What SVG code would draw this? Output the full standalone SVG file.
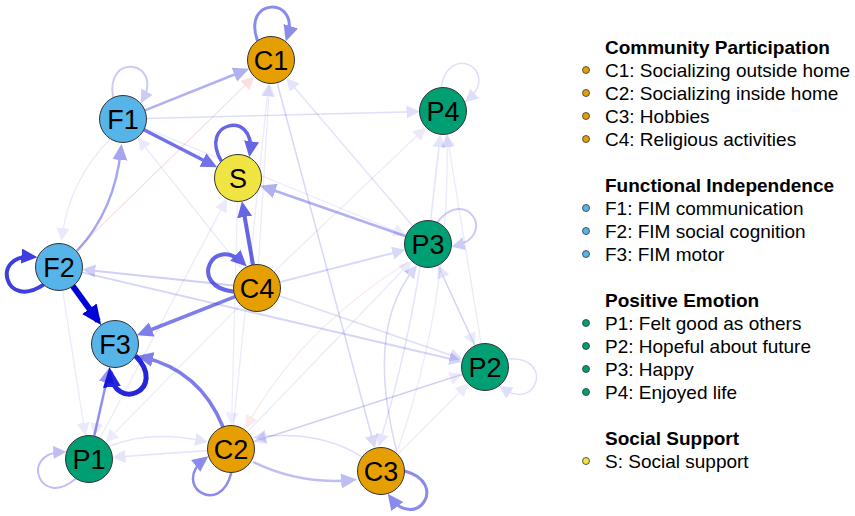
<svg xmlns="http://www.w3.org/2000/svg" width="855" height="516" viewBox="0 0 855 516">
<style>
.e{fill:none;stroke:#0000D6}
.er{fill:none;stroke:#D60000}
.n circle{stroke:#333;stroke-width:1}
.n text{font-family:"Liberation Sans",Arial,sans-serif;font-size:27px;fill:#000;text-anchor:middle}
.lg text{font-family:"Liberation Sans",Arial,sans-serif;font-size:19px;fill:#000}
.lg .t{font-weight:bold}
.lg circle{stroke:#333;stroke-width:0.8}
.cC{fill:#E69F00}.cF{fill:#56B4E9}.cP{fill:#009E73}.cS{fill:#F0E442}
</style>
<defs>
<marker id="s" markerUnits="userSpaceOnUse" markerWidth="14" markerHeight="14" refX="8" refY="6.5" orient="auto"><path d="M0,0 L13,6.5 L0,13 z" fill="#0000D6"/></marker>
<marker id="m" markerUnits="userSpaceOnUse" markerWidth="17" markerHeight="16" refX="11" refY="7.5" orient="auto"><path d="M0,0 L16,7.5 L0,15 z" fill="#0000D6"/></marker>
<marker id="l" markerUnits="userSpaceOnUse" markerWidth="21" markerHeight="19" refX="15" refY="9" orient="auto"><path d="M0,0 L20,9 L0,18 z" fill="#0000D6"/></marker>
<marker id="r" markerUnits="userSpaceOnUse" markerWidth="14" markerHeight="14" refX="8" refY="6.5" orient="auto"><path d="M0,0 L13,6.5 L0,13 z" fill="#D60000"/></marker>
</defs>
<rect width="855" height="516" fill="#fff"/>
<g id="edges">
<!-- very faint -->
<g stroke-width="1.2">
<path class="e" opacity="0.08" marker-end="url(#s)" d="M233.4,425.6 L268.1,88.4"/>
<path class="e" opacity="0.08" marker-end="url(#s)" d="M258.4,264.5 L269.3,88.4"/>
<path class="e" opacity="0.08" marker-end="url(#s)" d="M274,271.8 L422.4,130.6"/>
<path class="e" opacity="0.08" marker-end="url(#s)" d="M481.2,343.8 L447.6,139.1"/>
<path class="e" opacity="0.08" marker-end="url(#s)" d="M247.3,432.1 L408.2,264.5"/>
<path class="e" opacity="0.08" marker-end="url(#s)" d="M437.9,265.3 L473,341.2"/>
<path class="e" opacity="0.08" marker-end="url(#s)" d="M397.6,454.4 L464.8,387.2"/>
<path class="e" opacity="0.08" marker-end="url(#s)" d="M253.4,441.8 L457.9,375.8"/>
<path class="e" opacity="0.08" marker-end="url(#s)" d="M62.6,290.2 L84.6,430.8"/>
<path class="e" opacity="0.08" marker-end="url(#s)" d="M110,139 Q70,180 62,236"/>
<path class="e" opacity="0.08" marker-end="url(#s)" d="M109.8,366.9 L95.3,431.2"/>
<path class="e" opacity="0.07" marker-end="url(#s)" d="M240.5,304.8 L109,438.7"/>
<path class="e" opacity="0.08" marker-end="url(#s)" d="M100,438.2 L224.6,203.2"/>
<path class="e" opacity="0.08" marker-end="url(#s)" d="M242.4,269.6 L140.7,141.3"/>
<path class="e" opacity="0.08" marker-end="url(#s)" d="M398,449 Q450,300 447,139"/>
<path class="e" opacity="0.07" marker-end="url(#s)" d="M237.4,201.5 L231.7,420.5"/>
<path class="e" opacity="0.07" marker-end="url(#s)" d="M144.7,127.9 L401.6,233.2"/>
<path class="er" opacity="0.12" marker-end="url(#r)" d="M75.8,250.6 L250.6,79.9"/>
<path class="er" opacity="0.08" marker-end="url(#r)" d="M408,262 Q300,330 248,424"/>
</g>
<!-- light -->
<g stroke-width="1.5">
<path class="e" opacity="0.15" marker-end="url(#s)" d="M277.1,82.7 L373.6,443.5"/>
<path class="e" opacity="0.12" marker-end="url(#s)" d="M146.5,118.4 L414.5,111.7"/>
<path class="e" opacity="0.15" marker-end="url(#s)" d="M397,452 Q365,330 414,269"/>
<path class="e" opacity="0.1" marker-end="url(#s)" d="M420,267 Q405,360 380,442"/>
<path class="e" opacity="0.12" marker-end="url(#s)" d="M362,457 Q320,430 258,437"/>
<path class="e" opacity="0.12" marker-end="url(#s)" d="M462.6,374.2 L258.1,440.2"/>
<path class="e" opacity="0.1" marker-end="url(#s)" d="M207.6,450.6 L117.4,457"/>
<path class="e" opacity="0.1" marker-end="url(#s)" d="M110,446 Q150,430 203,441"/>
<path class="e" opacity="0.1" marker-end="url(#s)" d="M412.7,226.1 L289.5,81.7"/>
<path class="e" opacity="0.1" marker-end="url(#s)" d="M430.6,220.6 L439.8,139.3"/>
<path class="e" opacity="0.1" marker-end="url(#s)" d="M475.1,345.7 L440,269.8"/>
<path class="e" opacity="0.12" marker-end="url(#s)" d="M279.2,295.7 L458.1,357.7"/>
<path class="e" opacity="0.18" stroke-width="2" marker-end="url(#s)" d="M233.6,285.5 L87.3,270"/>
<path class="e" opacity="0.16" stroke-width="2" marker-end="url(#s)" d="M81.9,272.4 L457.3,360.5"/>
<path class="e" opacity="0.15" stroke-width="2" marker-end="url(#s)" d="M279.7,282.1 L400.4,251.1"/>
</g>
<!-- medium / strong -->
<path class="e" opacity="0.3" stroke-width="2.5" marker-end="url(#m)" d="M405.8,236.3 L264.9,187.3"/>
<path class="e" opacity="0.3" stroke-width="2.5" marker-end="url(#m)" d="M144.8,110.3 L244.5,70.5"/>
<path class="e" opacity="0.35" stroke-width="2.5" marker-end="url(#m)" d="M77,251 Q115,210 121,149"/>
<path class="e" opacity="0.25" stroke-width="2.5" marker-end="url(#m)" d="M253,462 Q300,485 352,480"/>
<path class="e" opacity="0.4" stroke-width="2.5" marker-end="url(#m)" d="M94.2,436.1 L108.7,371.8"/>
<path class="e" opacity="0.5" stroke-width="3.5" marker-end="url(#m)" d="M235.1,296.6 L141.5,333.5"/>
<path class="e" opacity="0.5" stroke-width="3.5" marker-end="url(#m)" d="M223,427 Q200,370 142,357"/>
<path class="e" opacity="0.55" stroke-width="3.5" marker-end="url(#m)" d="M143.9,129.7 L212.7,165"/>
<path class="e" opacity="0.6" stroke-width="4" marker-end="url(#m)" d="M253,264.8 L242.8,206.1"/>
<path class="e" opacity="1" stroke-width="6" marker-end="url(#l)" d="M72.8,286 L98.2,320.9"/>
<!-- self loops -->
<path class="e" opacity="0.12" stroke-width="1.5" marker-end="url(#s)" d="M507.1,359 C553.9,354.8 538.6,412 503.3,388.8"/>
<path class="e" opacity="0.12" stroke-width="1.5" marker-end="url(#s)" d="M441,87.6 C449.1,41.3 500.3,70.8 468.8,99"/>
<path class="e" opacity="0.2" stroke-width="2" marker-end="url(#s)" d="M437.2,222.4 C466.1,185.3 497.5,235.5 456.5,245.5"/>
<path class="e" opacity="0.2" stroke-width="2" marker-end="url(#s)" d="M113.1,97.7 C104.9,51.4 163.2,61.7 143.2,98.8"/>
<path class="e" opacity="0.25" stroke-width="2" marker-end="url(#s)" d="M75.9,478.5 C40.4,509.4 19.2,454.1 61.3,452.1"/>
<path class="e" opacity="0.45" stroke-width="2.5" marker-end="url(#m)" d="M231.4,472.5 C220.1,518.1 171,485.1 204.4,459.2"/>
<path class="e" opacity="0.45" stroke-width="3" marker-end="url(#m)" d="M404.5,471 C449.9,483.2 416,531.6 390.7,497.8"/>
<path class="e" opacity="0.45" stroke-width="3" marker-end="url(#m)" d="M257.5,40.7 C241.4,-3.4 300.6,-3.4 287.3,36.7"/>
<path class="e" opacity="0.6" stroke-width="3.5" marker-end="url(#m)" d="M221.4,161.4 C197.8,120.7 256.1,110.4 250,152.2"/>
<path class="e" opacity="0.6" stroke-width="4" marker-end="url(#m)" d="M233.8,291.7 C187,286.8 212.9,233.6 243.2,263.1"/>
<path class="e" opacity="0.75" stroke-width="4" marker-end="url(#m)" d="M43.6,284.7 C4.6,311.1 -9.7,253.6 32.4,256.8"/>
<path class="e" opacity="0.85" stroke-width="5" marker-end="url(#l)" d="M135.4,355.8 C168.6,389 115,414 110.1,372.1"/>
</g>
<g id="C1" class="n"><circle class="cC" cx="271" cy="60" r="23.5"/><text x="271" y="69.7">C1</text></g>
<g id="F1" class="n"><circle class="cF" cx="123" cy="119" r="23.5"/><text x="123" y="128.7">F1</text></g>
<g id="S" class="n"><circle class="cS" cx="238" cy="178" r="23.5"/><text x="238" y="187.7">S</text></g>
<g id="P4" class="n"><circle class="cP" cx="443" cy="111" r="23.5"/><text x="443" y="120.7">P4</text></g>
<g id="P3" class="n"><circle class="cP" cx="428" cy="244" r="23.5"/><text x="428" y="253.7">P3</text></g>
<g id="P2" class="n"><circle class="cP" cx="485" cy="367" r="23.5"/><text x="485" y="376.7">P2</text></g>
<g id="F2" class="n"><circle class="cF" cx="59" cy="267" r="23.5"/><text x="59" y="276.7">F2</text></g>
<g id="C4" class="n"><circle class="cC" cx="257" cy="288" r="23.5"/><text x="257" y="297.7">C4</text></g>
<g id="F3" class="n"><circle class="cF" cx="115" cy="344" r="23.5"/><text x="115" y="353.7">F3</text></g>
<g id="P1" class="n"><circle class="cP" cx="89" cy="459" r="23.5"/><text x="89" y="468.7">P1</text></g>
<g id="C2" class="n"><circle class="cC" cx="231" cy="449" r="23.5"/><text x="231" y="458.7">C2</text></g>
<g id="C3" class="n"><circle class="cC" cx="381" cy="471" r="23.5"/><text x="381" y="480.7">C3</text></g>
<g id="legend" class="lg">
<text class="t" x="605" y="53.5">Community Participation</text>
<circle class="cC" cx="586" cy="70" r="3.5"/><text x="605" y="76.5">C1: Socializing outside home</text>
<circle class="cC" cx="586" cy="93" r="3.5"/><text x="605" y="99.5">C2: Socializing inside home</text>
<circle class="cC" cx="586" cy="116" r="3.5"/><text x="605" y="122.5">C3: Hobbies</text>
<circle class="cC" cx="586" cy="139" r="3.5"/><text x="605" y="145.5">C4: Religious activities</text>
<text class="t" x="605" y="191.5">Functional Independence</text>
<circle class="cF" cx="586" cy="208" r="3.5"/><text x="605" y="214.5">F1: FIM communication</text>
<circle class="cF" cx="586" cy="231" r="3.5"/><text x="605" y="237.5">F2: FIM social cognition</text>
<circle class="cF" cx="586" cy="254" r="3.5"/><text x="605" y="260.5">F3: FIM motor</text>
<text class="t" x="605" y="306.5">Positive Emotion</text>
<circle class="cP" cx="586" cy="323" r="3.5"/><text x="605" y="329.5">P1: Felt good as others</text>
<circle class="cP" cx="586" cy="346" r="3.5"/><text x="605" y="352.5">P2: Hopeful about future</text>
<circle class="cP" cx="586" cy="369" r="3.5"/><text x="605" y="375.5">P3: Happy</text>
<circle class="cP" cx="586" cy="392" r="3.5"/><text x="605" y="398.5">P4: Enjoyed life</text>
<text class="t" x="605" y="444.5">Social Support</text>
<circle class="cS" cx="586" cy="461" r="3.5"/><text x="605" y="467.5">S: Social support</text>
</g>
</svg>
